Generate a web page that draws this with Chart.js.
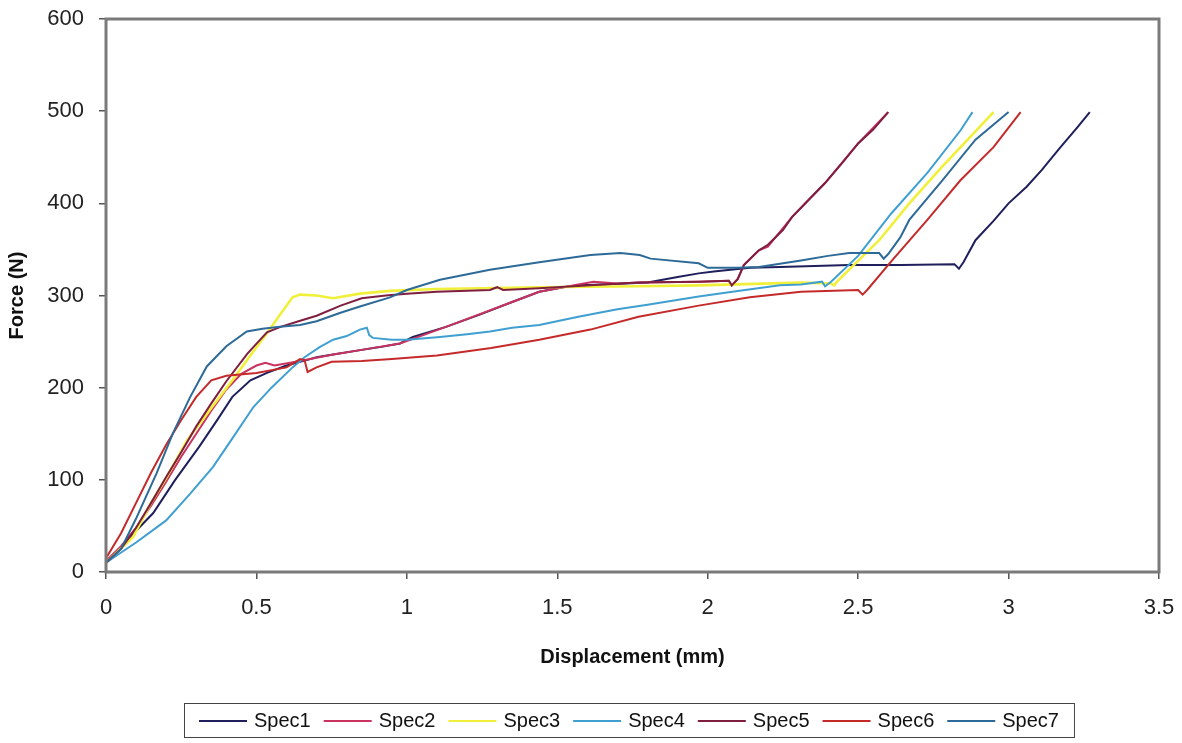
<!DOCTYPE html>
<html><head><meta charset="utf-8">
<script src="https://cdn.jsdelivr.net/npm/chart.js@4/dist/chart.umd.min.js"></script>
<style>html,body{margin:0;padding:0;background:#fff}#wrap{width:1182px;height:743px}</style>
</head><body><div id="wrap"><canvas id="c" width="1182" height="743"></canvas></div>
<script>
const seriesNames = ['Spec1','Spec2','Spec3','Spec4','Spec5','Spec6','Spec7'];
const xTickValues = [0,0.5,1,1.5,2,2.5,3,3.5];
const yTickValues = [0,100,200,300,400,500,600];

const spec1 = [[0,10],[0.02,16],[0.08,38],[0.157,64],[0.23,100],[0.31,136],[0.37,165],[0.42,190],[0.48,208],[0.535,216],[0.6,224],[0.645,228],[0.7,233],[0.755,236],[0.85,241],[0.91,244],[0.977,248],[1.02,255],[1.13,266],[1.24,279],[1.35,293],[1.44,304],[1.52,309],[1.57,311],[1.65,312],[1.8,314],[1.9,320],[1.97,324],[2.02,326],[2.14,330],[2.24,331],[2.47,333],[2.64,333],[2.82,334],[2.835,329],[2.85,336],[2.89,360],[2.95,381],[3.0,400],[3.06,418],[3.11,436],[3.17,460],[3.23,483],[3.27,499]];
const spec2 = [[0,12],[0.05,28],[0.1,48],[0.15,72],[0.2,98],[0.25,125],[0.3,150],[0.35,175],[0.4,198],[0.45,215],[0.5,224],[0.53,227],[0.56,224],[0.645,229],[0.755,236],[0.85,241],[0.977,248],[1.13,266],[1.35,293],[1.44,304],[1.57,312],[1.62,315],[1.7,313],[1.77,314],[1.97,315],[2.07,316],[2.08,311],[2.1,318],[2.12,333],[2.17,349],[2.2,353],[2.28,385],[2.39,422],[2.5,465],[2.6,499]];
const spec3 = [[0,10],[0.09,38],[0.15,75],[0.2,102],[0.27,143],[0.35,178],[0.42,208],[0.48,235],[0.535,259],[0.58,280],[0.62,298],[0.645,301],[0.7,300],[0.755,297],[0.844,302],[0.944,305],[1.1,307],[1.44,309],[1.77,310],[1.97,311],[2.31,314],[2.41,313],[2.42,311],[2.43,315],[2.47,328],[2.57,360],[2.67,400],[2.78,440],[2.89,478],[2.95,499]];
const spec4 = [[0,10],[0.013,13],[0.1,32],[0.2,56],[0.28,85],[0.356,114],[0.42,145],[0.49,179],[0.55,200],[0.62,222],[0.66,233],[0.71,244],[0.755,252],[0.8,256],[0.844,263],[0.867,265],[0.875,257],[0.887,254],[0.95,252],[1.0,252],[1.11,255],[1.2,258],[1.276,261],[1.35,265],[1.44,268],[1.57,277],[1.7,285],[1.8,290],[1.97,299],[2.1,305],[2.24,311],[2.31,312],[2.38,315],[2.39,310],[2.41,315],[2.5,343],[2.61,389],[2.73,433],[2.84,479],[2.88,499]];
const spec5 = [[0,10],[0.05,25],[0.1,48],[0.15,75],[0.2,103],[0.25,130],[0.3,158],[0.35,183],[0.4,207],[0.47,237],[0.535,260],[0.58,266],[0.64,272],[0.7,278],[0.78,289],[0.85,297],[0.93,300],[1.0,302],[1.1,304],[1.276,306],[1.3,309],[1.32,306],[1.44,308],[1.61,311],[1.77,314],[1.97,315],[2.07,316],[2.08,311],[2.1,318],[2.12,333],[2.17,349],[2.2,355],[2.25,371],[2.28,385],[2.33,402],[2.39,422],[2.45,445],[2.5,465],[2.55,480],[2.6,499]];
const spec6 = [[0,15],[0.05,42],[0.1,75],[0.15,108],[0.2,138],[0.25,165],[0.3,190],[0.35,208],[0.4,213],[0.5,216],[0.6,222],[0.645,231],[0.66,230],[0.67,217],[0.7,222],[0.75,228],[0.85,229],[0.95,231],[1.1,235],[1.28,243],[1.44,252],[1.61,263],[1.77,277],[1.97,289],[2.14,298],[2.31,304],[2.5,306],[2.515,301],[2.53,306],[2.615,339],[2.73,382],[2.84,425],[2.95,461],[3.04,499]];
const spec7 = [[0,10],[0.05,25],[0.1,58],[0.168,107],[0.223,151],[0.28,190],[0.335,223],[0.4,245],[0.468,261],[0.52,264],[0.578,266],[0.645,268],[0.7,272],[0.777,281],[0.844,288],[0.944,298],[1.0,306],[1.11,317],[1.276,328],[1.44,336],[1.61,344],[1.71,346],[1.774,344],[1.81,340],[1.97,335],[2.0,330],[2.1,330],[2.17,331],[2.31,338],[2.4,343],[2.47,346],[2.57,346],[2.585,340],[2.6,345],[2.64,363],[2.67,382],[2.78,425],[2.89,469],[3.0,499]];

const seriesData = [spec1,spec2,spec3,spec4,spec5,spec6,spec7];
const seriesColors = ['#1f1f5c','#c8335f','#f0f03a','#3f9fd0','#7f1f3f','#c42a2a','#2d6a97'];
const seriesWidths = [2,2,2.6,2,2,2,2];

const FONT = "'Liberation Sans', Arial, sans-serif";

const framePlugin = {
  id: 'frame',
  afterDatasetsDraw(chart) {
    const {ctx, chartArea: a} = chart;
    ctx.save();
    ctx.strokeStyle = '#7a7a7a';
    ctx.lineWidth = 3;
    ctx.strokeRect(a.left, a.top, a.right - a.left, a.bottom - a.top);
    ctx.restore();
  }
};

const legendPlugin = {
  id: 'boxLegend',
  afterDraw(chart) {
    const {ctx, chartArea: a} = chart;
    const ds = chart.data.datasets;
    ctx.save();
    ctx.font = '20px ' + FONT;
    const lineLen = 48, gap = 7, itemGap = 13, pad = 15;
    const widths = ds.map(d => lineLen + gap + ctx.measureText(d.label).width);
    const total = widths.reduce((s, w) => s + w, 0) + itemGap * (ds.length - 1) + pad * 2;
    const cx = (a.left + a.right) / 2 - 4;
    const left = Math.round(cx - total / 2);
    const top = 703, h = 34;
    ctx.strokeStyle = '#444';
    ctx.lineWidth = 1;
    ctx.strokeRect(left + 0.5, top + 0.5, total, h);
    let x = left + pad;
    const cy = top + h / 2 + 1;
    ds.forEach((d, i) => {
      ctx.strokeStyle = d.borderColor;
      ctx.lineWidth = 2;
      ctx.beginPath();
      ctx.moveTo(x, cy);
      ctx.lineTo(x + lineLen, cy);
      ctx.stroke();
      ctx.fillStyle = '#111';
      ctx.textBaseline = 'middle';
      ctx.textAlign = 'left';
      ctx.fillText(d.label, x + lineLen + gap, cy);
      x += widths[i] + itemGap;
    });
    ctx.restore();
  }
};

const datasets = seriesNames.map((name, i) => ({
  label: name,
  data: seriesData[i].map(p => ({x: p[0], y: p[1]})),
  borderColor: seriesColors[i],
  backgroundColor: seriesColors[i],
  borderWidth: seriesWidths[i],
  showLine: true,
  pointRadius: 0,
  fill: false,
  tension: 0,
  order: seriesNames.length - 1 - i
}));

new Chart(document.getElementById('c'), {
  type: 'scatter',
  data: { datasets },
  plugins: [framePlugin, legendPlugin],
  options: {
    responsive: false,
    animation: false,
    devicePixelRatio: 1,
    layout: { padding: { top: 19, right: 23, bottom: 60, left: 0 } },
    plugins: { legend: { display: false }, tooltip: { enabled: false } },
    scales: {
      x: {
        type: 'linear', min: 0, max: 3.5,
        afterBuildTicks: s => { s.ticks = xTickValues.map(v => ({value: v})); },
        afterFit: s => { s.height = 111; s.paddingLeft = 0; s.paddingRight = 0; },
        ticks: { color: '#222', font: { family: FONT, size: 22 }, padding: 16, maxRotation: 0,
                 callback: v => String(v) },
        grid: { display: true, drawOnChartArea: false, drawTicks: true, tickLength: 7, color: '#555', lineWidth: 1.5 },
        border: { display: false },
        title: { display: true, text: 'Displacement (mm)', color: '#111',
                 font: { family: FONT, size: 20, weight: 'bold' }, padding: { top: 0, bottom: 14 } }
      },
      y: {
        type: 'linear', min: 0, max: 600,
        afterBuildTicks: s => { s.ticks = yTickValues.map(v => ({value: v})); },
        afterFit: s => { s.width = 106; s.paddingTop = 0; s.paddingBottom = 0; },
        ticks: { color: '#222', font: { family: FONT, size: 22 }, padding: 15 },
        grid: { display: true, drawOnChartArea: false, drawTicks: true, tickLength: 7, color: '#555', lineWidth: 1.5 },
        border: { display: false },
        title: { display: true, text: 'Force (N)', color: '#111',
                 font: { family: FONT, size: 20, weight: 'bold' }, padding: { top: 5, bottom: 0 } }
      }
    }
  }
});
</script></body></html>
